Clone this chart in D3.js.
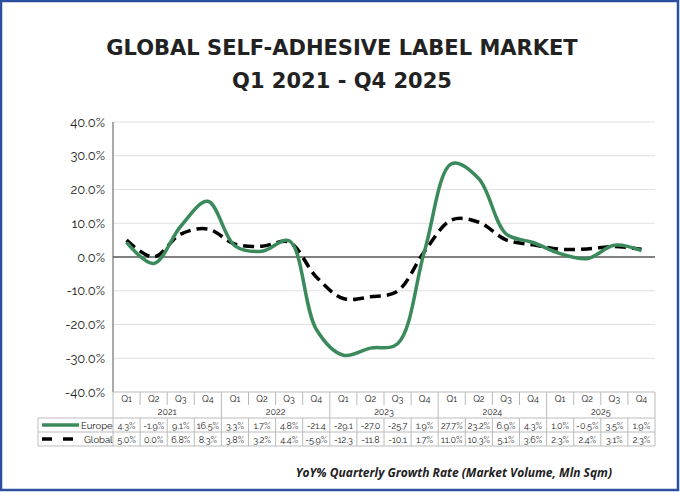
<!DOCTYPE html>
<html><head><meta charset="utf-8">
<script src="https://cdn.jsdelivr.net/npm/d3@7"></script>
<style>body{margin:0;background:#fff}svg{display:block}</style>
</head><body><svg id="c" width="680" height="492"></svg>
<script>
const quarters=["Q1","Q2","Q3","Q4"];
const years=["2021","2022","2023","2024","2025"];
const europe=[4.3,-1.9,9.1,16.5,3.3,1.7,4.8,-21.4,-29.1,-27.0,-25.7,1.9,27.7,23.2,6.9,4.3,1.0,-0.5,3.5,1.9];
const global=[5.0,0.0,6.8,8.3,3.8,3.2,4.4,-5.9,-12.3,-11.8,-10.1,1.7,11.0,10.3,5.1,3.6,2.3,2.4,3.1,2.3];
const europeLabels=["4.3%","-1.9%","9.1%","16.5%","3.3%","1.7%","4.8%","-21.4","-29.1","-27.0","-25.7","1.9%","27.7%","23.2%","6.9%","4.3%","1.0%","-0.5%","3.5%","1.9%"];
const globalLabels=["5.0%","0.0%","6.8%","8.3%","3.8%","3.2%","4.4%","-5.9%","-12.3","-11.8","-10.1","1.7%","11.0%","10.3%","5.1%","3.6%","2.3%","2.4%","3.1%","2.3%"];
const yTicks=[40,30,20,10,0,-10,-20,-30,-40];

const svg=d3.select("#c");
const F="Raleway, 'Open Sans', sans-serif";
svg.append("rect").attr("x",1).attr("y",1).attr("width",677).attr("height",489).attr("fill","#fff").attr("stroke","#2d4fa0").attr("stroke-width",2.5);
const t=svg.append("text").attr("text-anchor","middle").attr("font-family","'DejaVu Sans', sans-serif").attr("font-weight","bold").attr("font-size",21).attr("fill","#222");
t.append("tspan").attr("x",342).attr("y",55).text("GLOBAL SELF-ADHESIVE LABEL MARKET");
t.append("tspan").attr("x",342).attr("y",88).text("Q1 2021 - Q4 2025");

const L=113,R=655,T=122,B=392;
const idx=d3.range(20);
const xb=d3.scaleBand().domain(idx).range([L,R]);
const y=d3.scaleLinear().domain([-40,40]).range([B,T]);
const xc=i=>xb(i)+xb.bandwidth()/2;

yTicks.forEach(v=>{
  if(v!==-40) svg.append("line").attr("x1",L).attr("x2",R).attr("y1",y(v)).attr("y2",y(v)).attr("stroke",v===0?"#000":"#d9d9d9").attr("stroke-width",v===0?1:0.8);
  svg.append("text").attr("x",L-8).attr("y",y(v)+4.5).attr("text-anchor","end").attr("font-family",F).attr("font-size",13).attr("fill","#222").text(v.toFixed(1)+"%");
});
svg.append("line").attr("x1",L).attr("x2",L).attr("y1",T).attr("y2",B).attr("stroke","#555");

const line=d3.line().x((d,i)=>xc(i)).y(d=>y(d)).curve(d3.curveCatmullRom.alpha(0.5));
svg.append("path").attr("d",line(global)).attr("fill","none").attr("stroke","#000").attr("stroke-width",3.5).attr("stroke-dasharray","11,6");
svg.append("path").attr("d",line(europe)).attr("fill","none").attr("stroke","#3a8a5c").attr("stroke-width",3.5);

const g=svg.append("g").attr("font-family",F).attr("fill","#222");
const TL=38;
const gc="#bbb";
g.append("line").attr("x1",L).attr("x2",R).attr("y1",B).attr("y2",B).attr("stroke",gc);
[418,432,446].forEach(yy=>g.append("line").attr("x1",TL).attr("x2",R).attr("y1",yy).attr("y2",yy).attr("stroke",gc));
g.append("line").attr("x1",TL).attr("x2",TL).attr("y1",418).attr("y2",446).attr("stroke",gc);
g.append("line").attr("x1",R).attr("x2",R).attr("y1",B).attr("y2",446).attr("stroke",gc);
idx.forEach(i=>{
  const x0=xb(i);
  g.append("line").attr("x1",x0).attr("x2",x0).attr("y1",B).attr("y2",(i%4===0)?446:405).attr("stroke",gc);
  if(i%4!==0) g.append("line").attr("x1",x0).attr("x2",x0).attr("y1",418).attr("y2",446).attr("stroke",gc);
  g.append("text").attr("x",xc(i)).attr("y",402).attr("text-anchor","middle").attr("font-size",9).text(quarters[i%4]);
  g.append("text").attr("x",xc(i)).attr("y",428.5).attr("text-anchor","middle").attr("font-size",9).text(europeLabels[i]);
  g.append("text").attr("x",xc(i)).attr("y",442.5).attr("text-anchor","middle").attr("font-size",9).text(globalLabels[i]);
});
years.forEach((yr,k)=>{
  g.append("text").attr("x",(xb(k*4)+xb(k*4+3)+xb.bandwidth())/2).attr("y",415).attr("text-anchor","middle").attr("font-size",9).text(yr);
});
g.append("line").attr("x1",42).attr("x2",79).attr("y1",425).attr("y2",425).attr("stroke","#3a8a5c").attr("stroke-width",3.5);
g.append("text").attr("x",81).attr("y",428.5).attr("font-size",9.5).text("Europe");
g.append("line").attr("x1",42).attr("x2",80).attr("y1",439).attr("y2",439).attr("stroke","#000").attr("stroke-width",3.5).attr("stroke-dasharray","10,11");
g.append("text").attr("x",84).attr("y",442.5).attr("font-size",9.5).text("Global");

svg.append("text").attr("x",612).attr("y",477).attr("text-anchor","end").attr("font-family","'Open Sans', sans-serif").attr("font-weight","bold").attr("font-style","italic").attr("font-size",12).attr("fill","#222").text("YoY% Quarterly Growth Rate (Market Volume, Mln Sqm)");
</script></body></html>
